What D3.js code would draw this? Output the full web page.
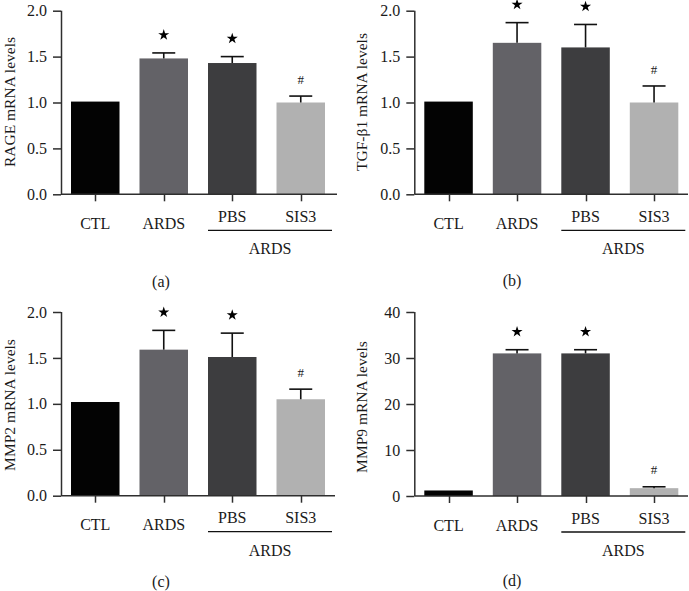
<!DOCTYPE html>
<html>
<head>
<meta charset="utf-8">
<script src="https://cdn.jsdelivr.net/npm/d3@7"></script>
<style>
  html, body { margin: 0; padding: 0; background: #fff; }
  svg { display: block; }
  text { font-family: "Liberation Serif", "Times New Roman", serif; fill: #1a1a1a; }
</style>
</head>
<body>
<svg id="chart" width="689" height="591"></svg>
<script>
// ---- Data ----
const categories = ["CTL", "ARDS", "PBS", "SIS3"];
const groupLabel = "ARDS";
const markers = ["", "star", "star", "hash"];

const rageMean = [1.01, 1.48, 1.43, 1.00];
const rageErr  = [0, 0.06, 0.07, 0.07];

const tgfMean = [1.01, 1.65, 1.60, 1.00];
const tgfErr  = [0, 0.22, 0.25, 0.18];

const mmp2Mean = [1.02, 1.59, 1.51, 1.05];
const mmp2Err  = [0, 0.21, 0.26, 0.11];

const mmp9Mean = [1.2, 31.0, 31.0, 1.7];
const mmp9Err  = [0, 0.8, 0.8, 0.3];

const ticks012 = [0.0, 0.5, 1.0, 1.5, 2.0];
const ticks40 = [0, 10, 20, 30, 40];

const barColors = ["#030303", "#636267", "#3d3d3f", "#b1b1b1"];

const panels = [
  { title: "RAGE mRNA levels", mean: rageMean, err: rageErr, ticks: ticks012, max: 2, fmt: d3.format(".1f"),
    ax: 61, y0: 194.3, y1: 10.7, axEnd: 337, caption: "(a)", capX: 161, capY: 287, labX: 15, labY: 102 },
  { title: "TGF-β1 mRNA levels", mean: tgfMean, err: tgfErr, ticks: ticks012, max: 2, fmt: d3.format(".1f"),
    ax: 414.3, y0: 194.3, y1: 10.7, axEnd: 688, caption: "(b)", capX: 512, capY: 286, labX: 367, labY: 102 },
  { title: "MMP2 mRNA levels", mean: mmp2Mean, err: mmp2Err, ticks: ticks012, max: 2, fmt: d3.format(".1f"),
    ax: 61, y0: 495.7, y1: 312, axEnd: 335, caption: "(c)", capX: 161, capY: 587, labX: 15, labY: 405 },
  { title: "MMP9 mRNA levels", mean: mmp9Mean, err: mmp9Err, ticks: ticks40, max: 40, fmt: d3.format("d"),
    ax: 414.3, y0: 496, y1: 312, axEnd: 688, caption: "(d)", capX: 512, capY: 586, labX: 367, labY: 407 }
];

const svg = d3.select("#chart");
const axisColor = "#2e2e2e";

panels.forEach(p => {
  const g = svg.append("g");
  const x = d3.scaleBand().domain(categories)
    .range([p.ax, p.ax + 274]).paddingInner(0.292).paddingOuter(0.146);
  const y = d3.scaleLinear().domain([0, p.max]).range([p.y0, p.y1]);
  const bw = x.bandwidth();

  // bars
  g.selectAll("rect.bar").data(categories).enter().append("rect")
    .attr("x", d => x(d))
    .attr("y", (d, i) => y(p.mean[i]))
    .attr("width", bw)
    .attr("height", (d, i) => y(0) - y(p.mean[i]))
    .attr("fill", (d, i) => barColors[i]);

  // error bars (upper only)
  const capW = 23;
  categories.forEach((c, i) => {
    if (!p.err[i]) return;
    const cx = x(c) + bw / 2;
    const top = y(p.mean[i] + p.err[i]);
    g.append("line").attr("x1", cx).attr("x2", cx)
      .attr("y1", y(p.mean[i])).attr("y2", top)
      .attr("stroke", "#111").attr("stroke-width", 1.6);
    g.append("line").attr("x1", cx - capW / 2).attr("x2", cx + capW / 2)
      .attr("y1", top).attr("y2", top)
      .attr("stroke", "#111").attr("stroke-width", 1.6);
  });

  // significance markers
  categories.forEach((c, i) => {
    const cx = x(c) + bw / 2;
    const top = y(p.mean[i] + p.err[i]);
    if (markers[i] === "star") {
      g.append("path").attr("d", d3.symbol().type(d3.symbolStar).size(38)())
        .attr("transform", `translate(${cx},${top - 18})`)
        .attr("fill", "#000");
    } else if (markers[i] === "hash") {
      g.append("text").attr("x", cx).attr("y", top - 17)
        .attr("text-anchor", "middle").attr("dy", "0.35em")
        .style("font-size", "13px").text("#");
    }
  });

  // y axis
  const yAxis = d3.axisLeft(y).tickValues(p.ticks).tickFormat(p.fmt).tickSizeInner(8).tickSizeOuter(0).tickPadding(6);
  const ya = g.append("g").attr("transform", `translate(${p.ax},0)`).call(yAxis);
  ya.select(".domain").attr("stroke", axisColor).attr("stroke-width", 1.5)
    .attr("d", `M0.5,${p.y1}V${p.y0}`);
  ya.selectAll(".tick line").attr("stroke", axisColor).attr("stroke-width", 1.5);
  ya.selectAll(".tick text").style("font-size", "16px").style("font-family", "'Liberation Serif', serif").attr("fill", "#1a1a1a");

  // x axis line
  g.append("line").attr("x1", p.ax).attr("x2", p.axEnd).attr("y1", p.y0).attr("y2", p.y0)
    .attr("stroke", axisColor).attr("stroke-width", 1.5);
  // x ticks
  categories.forEach(c => {
    const cx = Math.round(x(c) + bw / 2) + 0.5;
    g.append("line").attr("x1", cx).attr("x2", cx).attr("y1", p.y0).attr("y2", p.y0 + 7)
      .attr("stroke", axisColor).attr("stroke-width", 1.5);
  });

  // x labels
  categories.forEach((c, i) => {
    const cx = x(c) + bw / 2;
    g.append("text").attr("x", cx).attr("y", p.y0 + (i < 2 ? 34.5 : 27.5))
      .attr("text-anchor", "middle").style("font-size", "16px").text(c);
  });

  // group underline + label
  const gx1 = x("PBS");
  const gx2 = x("SIS3") + bw + 7;
  g.append("line").attr("x1", gx1).attr("x2", gx2).attr("y1", p.y0 + 36).attr("y2", p.y0 + 36)
    .attr("stroke", "#111").attr("stroke-width", 1.3);
  g.append("text").attr("x", (gx1 + gx2) / 2).attr("y", p.y0 + 60)
    .attr("text-anchor", "middle").style("font-size", "16px").text(groupLabel);

  // y title
  g.append("text").attr("transform", `translate(${p.labX},${p.labY}) rotate(-90)`)
    .attr("text-anchor", "middle").style("font-size", "15.5px").text(p.title);

  // caption
  g.append("text").attr("x", p.capX).attr("y", p.capY)
    .attr("text-anchor", "middle").style("font-size", "16px").text(p.caption);
});
</script>
</body>
</html>
